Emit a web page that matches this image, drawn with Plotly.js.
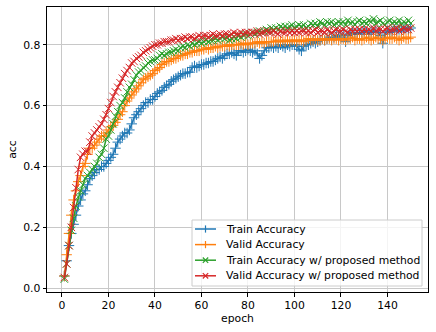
<!DOCTYPE html>
<html>
<head>
<meta charset="utf-8">
<script src="https://cdn.plot.ly/plotly-3.0.1.min.js"></script>
<style>html,body{margin:0;padding:0;background:#fff;}#chart{width:436px;height:332px;}</style>
</head>
<body>
<div id="chart"></div>
<script>
const seriesNames = ["Train Accuracy", "Valid Accuracy", "Train Accuracy w/ proposed method", "Valid Accuracy w/ proposed method"];
const epochs = Array.from({length: 150}, (_, i) => i + 1);
const xTicks = [0, 20, 40, 60, 80, 100, 120, 140];
const yTicks = [0.0, 0.2, 0.4, 0.6, 0.8];

const trainAcc = [
0.04,0.09,0.14,0.18,0.21,0.24,0.27,0.29,0.31,0.32,
0.34,0.36,0.37,0.38,0.39,0.39,0.40,0.40,0.41,0.42,
0.43,0.44,0.46,0.48,0.49,0.50,0.51,0.51,0.52,0.54,
0.56,0.57,0.58,0.59,0.60,0.61,0.61,0.62,0.62,0.63,
0.64,0.645,0.65,0.66,0.665,0.67,0.68,0.685,0.69,0.695,
0.70,0.705,0.705,0.71,0.71,0.725,0.73,0.725,0.73,0.735,
0.735,0.74,0.74,0.745,0.745,0.75,0.755,0.76,0.755,0.765,
0.77,0.77,0.775,0.77,0.765,0.78,0.78,0.775,0.78,0.785,
0.78,0.775,0.78,0.77,0.755,0.765,0.78,0.79,0.79,0.795,
0.79,0.795,0.79,0.80,0.795,0.79,0.80,0.795,0.80,0.80,
0.795,0.785,0.78,0.795,0.80,0.80,0.805,0.81,0.805,0.81,
0.815,0.82,0.815,0.82,0.825,0.82,0.825,0.83,0.825,0.83,
0.835,0.81,0.83,0.835,0.84,0.835,0.84,0.835,0.84,0.845,
0.84,0.835,0.845,0.84,0.845,0.84,0.83,0.805,0.835,0.845,
0.84,0.845,0.85,0.845,0.85,0.845,0.85,0.855,0.85,0.855];

const validAcc = [
0.04,0.11,0.18,0.24,0.29,0.32,0.35,0.37,0.40,0.41,
0.44,0.46,0.46,0.47,0.48,0.49,0.50,0.50,0.51,0.52,
0.53,0.535,0.545,0.555,0.57,0.58,0.60,0.615,0.625,0.635,
0.645,0.655,0.665,0.675,0.685,0.69,0.695,0.70,0.705,0.715,
0.72,0.725,0.735,0.74,0.745,0.745,0.75,0.755,0.755,0.76,
0.765,0.765,0.77,0.77,0.775,0.775,0.78,0.78,0.78,0.785,
0.785,0.79,0.785,0.79,0.79,0.795,0.79,0.795,0.795,0.795,
0.80,0.795,0.80,0.80,0.80,0.80,0.805,0.80,0.805,0.80,
0.805,0.805,0.805,0.81,0.805,0.81,0.805,0.81,0.81,0.81,
0.81,0.815,0.81,0.81,0.815,0.81,0.815,0.81,0.815,0.815,
0.81,0.815,0.815,0.81,0.815,0.82,0.815,0.815,0.82,0.815,
0.815,0.82,0.815,0.82,0.82,0.815,0.82,0.82,0.815,0.82,
0.82,0.815,0.82,0.82,0.825,0.815,0.82,0.82,0.815,0.82,
0.825,0.82,0.815,0.82,0.825,0.82,0.82,0.815,0.82,0.825,
0.82,0.82,0.825,0.82,0.815,0.82,0.825,0.82,0.82,0.825];

const trainAccProp = [
0.03,0.08,0.14,0.19,0.23,0.27,0.30,0.32,0.34,0.36,
0.37,0.38,0.39,0.40,0.41,0.43,0.44,0.46,0.49,0.50,
0.52,0.54,0.565,0.58,0.60,0.61,0.625,0.645,0.66,0.67,
0.685,0.70,0.71,0.715,0.725,0.73,0.74,0.745,0.75,0.75,
0.755,0.765,0.77,0.765,0.77,0.775,0.775,0.78,0.785,0.78,
0.79,0.795,0.79,0.80,0.795,0.805,0.80,0.805,0.81,0.805,
0.81,0.815,0.81,0.815,0.815,0.82,0.815,0.82,0.825,0.82,
0.825,0.815,0.82,0.825,0.82,0.83,0.825,0.83,0.835,0.83,
0.835,0.84,0.835,0.84,0.845,0.84,0.845,0.85,0.845,0.855,
0.85,0.855,0.85,0.86,0.855,0.86,0.855,0.86,0.865,0.855,
0.86,0.865,0.86,0.865,0.855,0.86,0.87,0.865,0.87,0.86,
0.875,0.87,0.865,0.875,0.87,0.875,0.865,0.87,0.875,0.87,
0.875,0.865,0.88,0.87,0.875,0.865,0.875,0.88,0.87,0.875,
0.87,0.88,0.875,0.885,0.87,0.875,0.88,0.87,0.865,0.875,
0.88,0.87,0.875,0.87,0.88,0.865,0.875,0.87,0.88,0.87];

const validAccProp = [
0.035,0.08,0.14,0.20,0.265,0.33,0.39,0.43,0.44,0.45,
0.45,0.48,0.50,0.51,0.52,0.53,0.54,0.555,0.57,0.59,
0.61,0.63,0.645,0.66,0.675,0.69,0.705,0.715,0.725,0.74,
0.745,0.755,0.76,0.765,0.775,0.78,0.785,0.79,0.795,0.80,
0.80,0.805,0.805,0.81,0.81,0.81,0.815,0.815,0.82,0.815,
0.82,0.82,0.825,0.82,0.825,0.825,0.82,0.825,0.83,0.825,
0.83,0.83,0.825,0.83,0.835,0.83,0.83,0.835,0.83,0.835,
0.835,0.83,0.835,0.84,0.835,0.835,0.84,0.835,0.84,0.84,
0.835,0.84,0.84,0.845,0.835,0.84,0.84,0.845,0.84,0.84,
0.845,0.84,0.835,0.845,0.84,0.84,0.845,0.84,0.845,0.84,
0.845,0.84,0.845,0.845,0.84,0.845,0.84,0.845,0.85,0.84,
0.845,0.845,0.84,0.85,0.845,0.84,0.845,0.85,0.845,0.845,
0.85,0.845,0.84,0.85,0.845,0.85,0.845,0.85,0.845,0.85,
0.845,0.85,0.845,0.855,0.845,0.85,0.85,0.845,0.85,0.855,
0.845,0.85,0.85,0.855,0.845,0.85,0.855,0.85,0.85,0.855];

const colors = ["#1f77b4", "#ff7f0e", "#2ca02c", "#d62728"];
const symbols = ["cross-thin", "cross-thin", "x-thin", "x-thin"];
const allY = [trainAcc, validAcc, trainAccProp, validAccProp];

const traces = allY.map((ys, i) => ({
  x: epochs, y: ys, type: "scatter", mode: "lines+markers", name: seriesNames[i],
  line: {color: colors[i], width: 1.5},
  marker: {symbol: symbols[i], size: 7.5, color: colors[i], line: {color: colors[i], width: 1}},
  showlegend: false
}));

// plot geometry (pixels)
const W = 436, H = 332, ML = 47, MR = 8, MT = 7, MB = 40;
const PW = W - ML - MR, PH = H - MT - MB;
const px = v => (v - ML) / PW;
const py = v => (H - MB - v) / PH;

const font = {family: "DejaVu Sans, sans-serif", size: 10.8, color: "#000"};

// hand-built legend (matplotlib style, lower right)
const legBox = {x0: 192, x1: 422, y0: 220, y1: 286};
const rowY = [229, 244.6, 260.2, 275.8];
const shapes = [{
  type: "rect", xref: "paper", yref: "paper", layer: "above",
  x0: px(legBox.x0), x1: px(legBox.x1), y0: py(legBox.y1), y1: py(legBox.y0),
  fillcolor: "rgba(255,255,255,0.8)", line: {color: "#cccccc", width: 1}
}];
const annotations = [];
seriesNames.forEach((name, i) => {
  const yc = rowY[i];
  shapes.push({type: "line", xref: "paper", yref: "paper", layer: "above",
    x0: px(195), x1: px(216), y0: py(yc), y1: py(yc), line: {color: colors[i], width: 1.5}});
  const s = 3.6, cx = 205.5;
  if (symbols[i] === "cross-thin") {
    shapes.push({type: "line", xref: "paper", yref: "paper", layer: "above",
      x0: px(cx), x1: px(cx), y0: py(yc - s), y1: py(yc + s), line: {color: colors[i], width: 1.2}});
  } else {
    shapes.push({type: "line", xref: "paper", yref: "paper", layer: "above",
      x0: px(cx - s * 0.75), x1: px(cx + s * 0.75), y0: py(yc - s * 0.75), y1: py(yc + s * 0.75), line: {color: colors[i], width: 1.2}});
    shapes.push({type: "line", xref: "paper", yref: "paper", layer: "above",
      x0: px(cx - s * 0.75), x1: px(cx + s * 0.75), y0: py(yc + s * 0.75), y1: py(yc - s * 0.75), line: {color: colors[i], width: 1.2}});
  }
  annotations.push({xref: "paper", yref: "paper", x: px(224), y: py(yc), xanchor: "left", yanchor: "middle",
    text: name, showarrow: false, font: font});
});

const layout = {
  width: W, height: H,
  margin: {l: ML, r: MR, t: MT, b: MB},
  paper_bgcolor: "#fff", plot_bgcolor: "#fff",
  font: font,
  showlegend: false,
  xaxis: {
    range: [-6.45, 157.45], tickvals: xTicks, ticktext: xTicks.map(String),
    showgrid: true, gridcolor: "#c8c8c8", gridwidth: 1,
    showline: true, linecolor: "#000", linewidth: 1, mirror: true,
    ticks: "outside", ticklen: 3.5, tickcolor: "#000", zeroline: false,
    title: {text: "epoch", font: font, standoff: 1}
  },
  yaxis: {
    range: [-0.0125, 0.924], tickvals: yTicks, ticktext: yTicks.map(v => v.toFixed(1)),
    showgrid: true, gridcolor: "#c8c8c8", gridwidth: 1,
    showline: true, linecolor: "#000", linewidth: 1, mirror: true,
    ticks: "outside", ticklen: 3.5, tickcolor: "#000", zeroline: false,
    title: {text: "acc", font: font, standoff: 4}
  },
  shapes: shapes,
  annotations: annotations
};
Plotly.newPlot("chart", traces, layout, {staticPlot: true, displayModeBar: false});
</script>
</body>
</html>
